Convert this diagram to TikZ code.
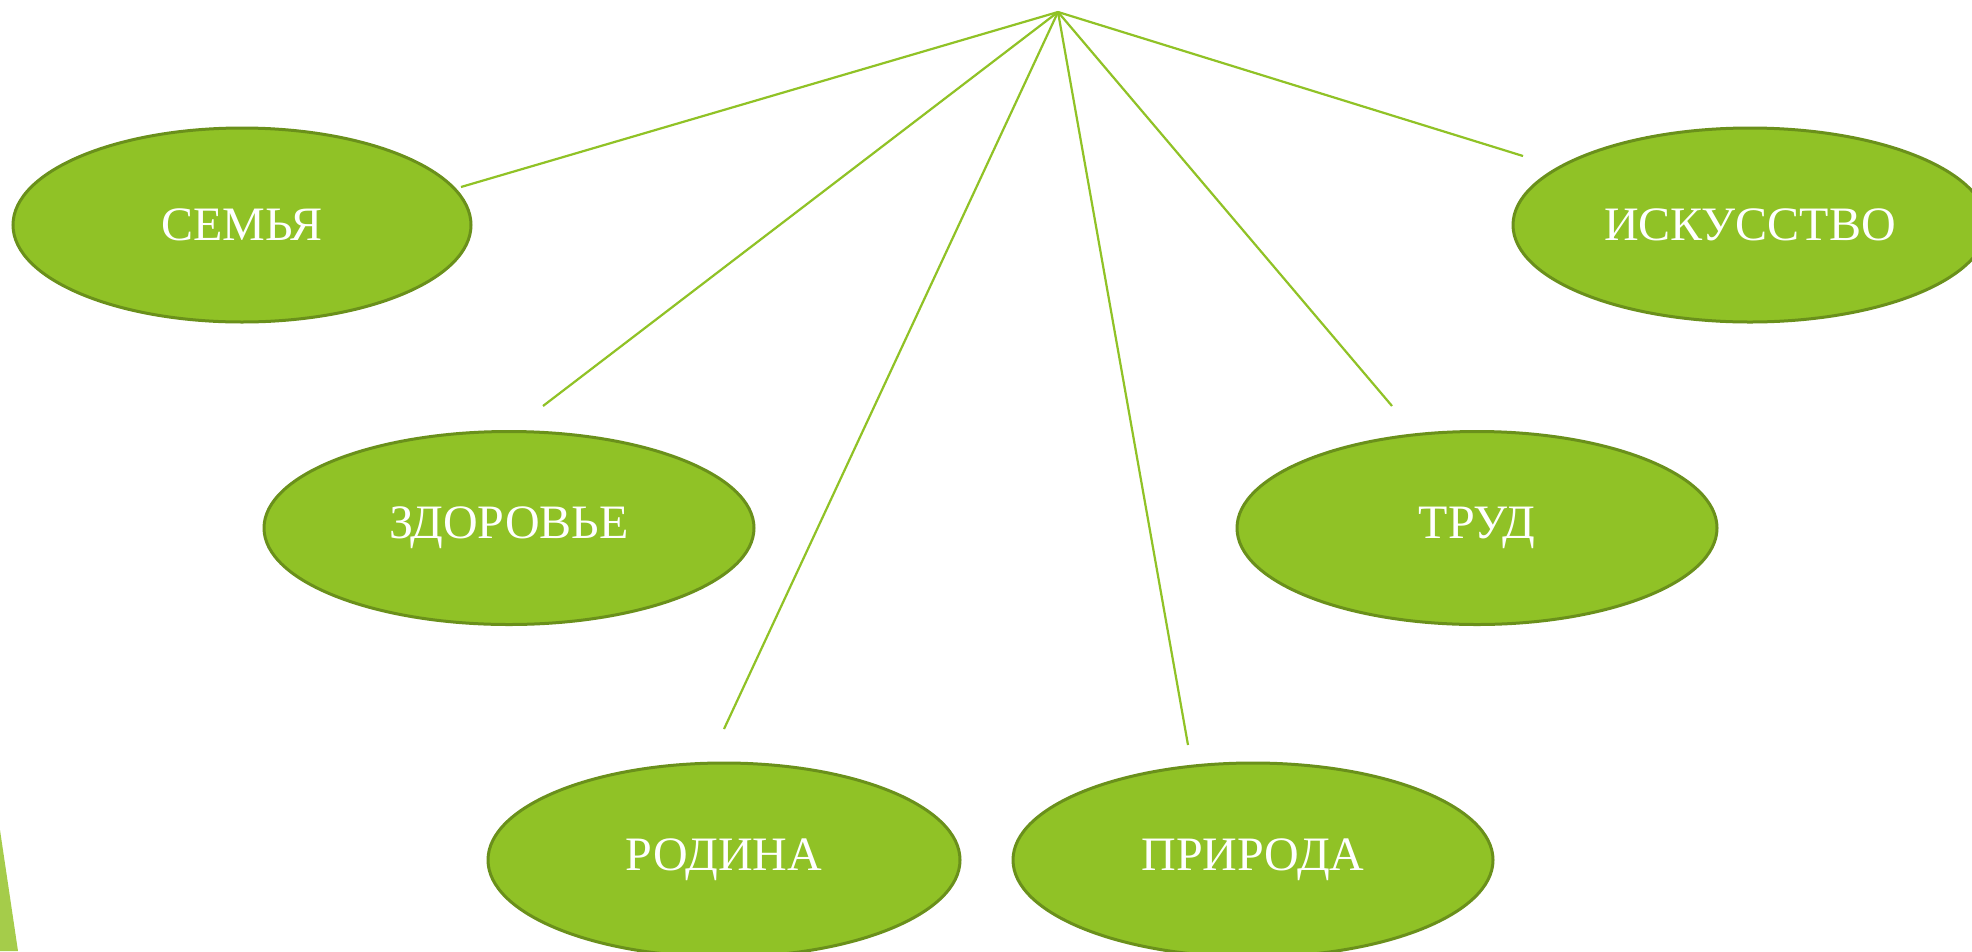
\documentclass[tikz,border=0pt]{standalone}
\usepackage{fontspec}
\setmainfont{Liberation Serif}
\usetikzlibrary{shapes.geometric}
\definecolor{leaf}{HTML}{90C226}
\definecolor{leafdark}{HTML}{6A901B}
\definecolor{leaflight}{HTML}{A5CC4A}
\tikzset{
  topic/.style={ellipse, draw=leafdark, line width=3pt, fill=leaf, text=white,
    inner sep=0pt, font=\fontsize{48}{56}\selectfont},
  spoke/.style={draw=leaf, line width=2.2pt}
}
\begin{document}
\begin{tikzpicture}[x=1pt,y=-1pt]
\useasboundingbox (0,0) rectangle (1972,951);
\clip (0,0) rectangle (1972,951);
\fill[white] (0,0) rectangle (1972,951);
\fill[leaflight] (0,830) -- (18,951) -- (0,951) -- cycle;

\node[topic, minimum width=458pt, minimum height=194pt] (semya) at (242,225) {СЕМЬЯ};
\node[topic, minimum width=474pt, minimum height=194pt] (isk) at (1750,225) {ИСКУССТВО};
\node[topic, minimum width=490pt, minimum height=193pt] (zdor) at (509,528) {ЗДОРОВЬЕ};
\node[topic, minimum width=480pt, minimum height=193pt] (trud) at (1477,528) {ТРУД};
\node[topic, minimum width=472pt, minimum height=194pt] (rodina) at (724,860) {РОДИНА};
\node[topic, minimum width=480pt, minimum height=194pt] (priroda) at (1253,860) {ПРИРОДА};

\coordinate (apex) at (1058,12);
\coordinate (eSemya) at (461,187);
\coordinate (eIsk) at (1523,156);
\coordinate (eZdor) at (543,406);
\coordinate (eTrud) at (1392,406);
\coordinate (eRodina) at (724,729);
\coordinate (ePriroda) at (1188,745);

\draw[spoke] (apex) -- (eSemya);
\draw[spoke] (apex) -- (eIsk);
\draw[spoke] (apex) -- (eZdor);
\draw[spoke] (apex) -- (eTrud);
\draw[spoke] (apex) -- (eRodina);
\draw[spoke] (apex) -- (ePriroda);
\end{tikzpicture}
\end{document}
